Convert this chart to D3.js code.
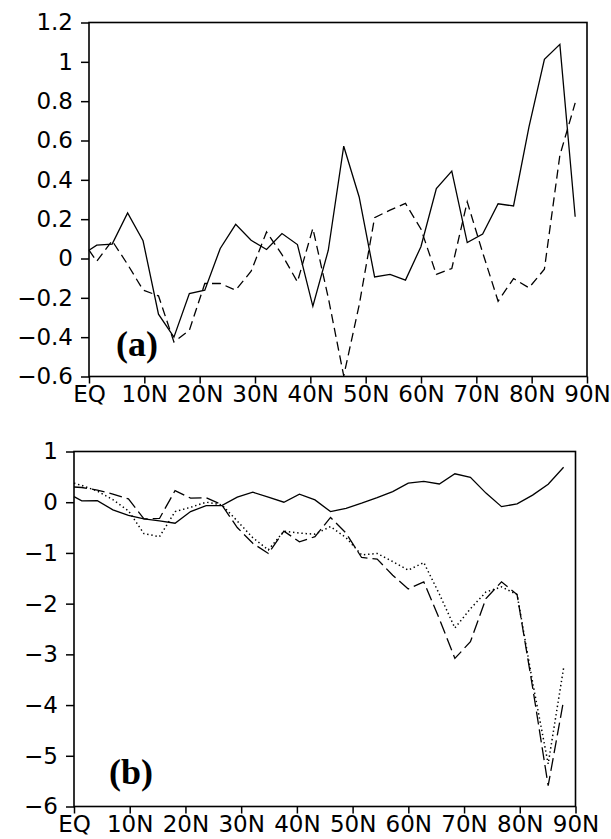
<!DOCTYPE html>
<html><head><meta charset="utf-8">
<script src="https://cdn.jsdelivr.net/npm/d3@7"></script>
<style>
html,body{margin:0;padding:0;background:#fff;}
svg{display:block;}
.tick text{font-family:"DejaVu Sans",sans-serif;font-size:23px;fill:#000;}
</style></head>
<body>
<svg id="chart" width="611" height="839"></svg>
<script>
// latitude categories (EQ + Gaussian latitudes)
const lats = [0, 1.395, 4.186, 6.977, 9.767, 12.557, 15.347, 18.137, 20.927, 23.717, 26.507,
  29.297, 32.087, 34.876, 37.666, 40.456, 43.246, 46.036, 48.825, 51.615, 54.405, 57.195,
  59.984, 62.774, 65.564, 68.354, 71.143, 73.933, 76.723, 79.513, 82.303, 85.097, 87.864];

// panel (a)
const aSolid = [0.042, 0.068, 0.073, 0.232, 0.09, -0.283, -0.40, -0.178, -0.161, 0.051, 0.174,
  0.093, 0.046, 0.127, 0.071, -0.243, 0.042, 0.571, 0.313, -0.094, -0.081, -0.110, 0.06,
  0.356, 0.444, 0.081, 0.124, 0.278, 0.267, 0.669, 1.013, 1.089, 0.212];
const aDashed = [0.042, -0.014, 0.09, -0.03, -0.16, -0.19, -0.424, -0.365, -0.127, -0.127, -0.161,
  -0.065, 0.135, 0.02, -0.119, 0.153, -0.2, -0.597, -0.237, 0.208, 0.246, 0.28, 0.15,
  -0.081, -0.051, 0.288, 0.03, -0.217, -0.102, -0.149, -0.054, 0.525, 0.791];

// panel (b)
const bSolid = [0.11, 0.026, 0.03, -0.15, -0.26, -0.33, -0.37, -0.415, -0.185, -0.067, -0.067,
  0.1, 0.198, 0.10, 0.0, 0.158, 0.045, -0.185, -0.12, -0.02, 0.09, 0.21, 0.375, 0.41, 0.36,
  0.56, 0.49, 0.18, -0.087, -0.034, 0.14, 0.355, 0.69];
const bDashed = [0.30, 0.29, 0.24, 0.16, 0.065, -0.33, -0.32, 0.23, 0.08, 0.09, -0.05,
  -0.5, -0.81, -1.01, -0.57, -0.78, -0.68, -0.30, -0.61, -1.09, -1.12, -1.44, -1.71, -1.57,
  -2.3, -3.08, -2.75, -1.90, -1.57, -1.82, -3.65, -5.59, -3.91];
const bDotted = [0.375, 0.33, 0.22, 0.05, -0.17, -0.62, -0.68, -0.185, -0.1, 0.0, -0.05,
  -0.37, -0.7, -0.94, -0.57, -0.61, -0.63, -0.48, -0.7, -1.04, -1.01, -1.17, -1.34, -1.19,
  -1.81, -2.48, -2.1, -1.77, -1.67, -1.82, -3.55, -5.16, -3.27];

// tick labels
const xTicks = [0, 10, 20, 30, 40, 50, 60, 70, 80, 90];
const xTickLabels = ["EQ", "10N", "20N", "30N", "40N", "50N", "60N", "70N", "80N", "90N"];
const aYTicks = [1.2, 1, 0.8, 0.6, 0.4, 0.2, 0, -0.2, -0.4, -0.6];
const aYTickLabels = ["1.2", "1", "0.8", "0.6", "0.4", "0.2", "0", "\u22120.2", "\u22120.4", "\u22120.6"];
const bYTicks = [1, 0, -1, -2, -3, -4, -5, -6];
const bYTickLabels = ["1", "0", "\u22121", "\u22122", "\u22123", "\u22124", "\u22125", "\u22126"];

const svg = d3.select("#chart");

function panel(opt) {
  const x = d3.scaleLinear().domain([0, 90]).range([opt.left, opt.right]);
  const y = d3.scaleLinear().domain(opt.yDomain).range([opt.bottom, opt.top]);
  const g = svg.append("g");

  const xAxis = d3.axisBottom(x).tickValues(xTicks)
    .tickFormat((d, i) => xTickLabels[i]).tickSize(7).tickPadding(4).tickSizeOuter(0);
  const gx = g.append("g").attr("transform", `translate(0,${opt.bottom})`).call(xAxis);
  gx.selectAll("text").attr("dy", null).attr("y", 25).attr("dominant-baseline", "auto");

  const yAxis = d3.axisLeft(y).tickValues(opt.yTicks)
    .tickFormat((d, i) => opt.yLabels[i]).tickSize(8).tickPadding(8).tickSizeOuter(0);
  g.append("g").attr("transform", `translate(${opt.left},0)`).call(yAxis);

  g.selectAll(".domain").remove();
  g.selectAll(".tick line").attr("stroke", "#000").attr("stroke-width", 1.5);

  g.append("rect").attr("x", opt.left).attr("y", opt.top)
    .attr("width", opt.right - opt.left).attr("height", opt.bottom - opt.top)
    .attr("fill", "none").attr("stroke", "#000").attr("stroke-width", 1.6);

  const line = d3.line().x((d, i) => x(lats[i])).y(d => y(d));
  opt.series.forEach(s => {
    g.append("path").datum(s.values).attr("d", line)
      .attr("fill", "none").attr("stroke", "#000")
      .attr("stroke-width", s.width || 1.3)
      .attr("stroke-linejoin", "miter")
      .attr("stroke-dasharray", s.dash || null);
  });

  g.append("text").attr("x", opt.labelX).attr("y", opt.labelY)
    .attr("font-family", "'Liberation Serif','Times New Roman',serif")
    .attr("font-weight", "bold").attr("font-size", 36).text(opt.label);
}

panel({
  left: 89, right: 587, top: 22.5, bottom: 376.5,
  yDomain: [-0.6, 1.2], yTicks: aYTicks, yLabels: aYTickLabels,
  series: [
    { values: aSolid },
    { values: aDashed, dash: "9,5" }
  ],
  label: "(a)", labelX: 116, labelY: 356
});

panel({
  left: 74, right: 575.5, top: 451.5, bottom: 806.5,
  yDomain: [-6, 1], yTicks: bYTicks, yLabels: bYTickLabels,
  series: [
    { values: bSolid },
    { values: bDashed, dash: "13,5" },
    { values: bDotted, dash: "1.4,2.8", width: 1.5 }
  ],
  label: "(b)", labelX: 109, labelY: 784
});
</script>
</body></html>
